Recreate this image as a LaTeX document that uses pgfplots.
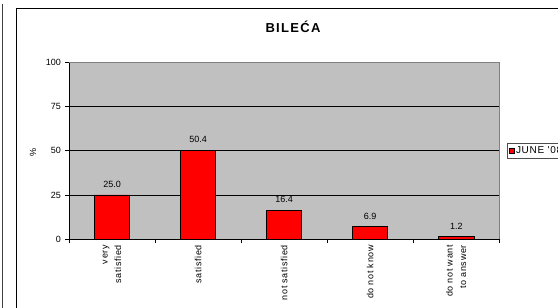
\documentclass[border=0pt]{standalone}
\usepackage{pgfplots}
\pgfplotsset{compat=1.18}
\usepackage{fontspec}
\setmainfont{Liberation Sans}
\newfontfamily\lblfont[LetterSpace=7]{Liberation Sans}
\newfontfamily\titlefont[LetterSpace=10]{Liberation Sans}
\definecolor{plotbg}{HTML}{C0C0C0}
\definecolor{barred}{HTML}{FF0000}
\begin{document}
\begin{tikzpicture}[x=1bp,y=1bp]
\useasboundingbox (0,0) rectangle (558,307);
\draw[black!75, line width=1.2bp] (2.5,-5) -- (2.5,303);
\draw[black, line width=1bp] (16,-10) -- (16,298.7) -- (620,298.7);
\node[font=\titlefont\bfseries\fontsize{13bp}{15bp}\selectfont, anchor=base, inner sep=0pt] at (293,274.3) {BILEĆA};
\begin{axis}[
  at={(69bp,68bp)}, anchor=south west,
  scale only axis, width=430.3bp, height=176.3bp,
  xmin=-0.5, xmax=4.5, ymin=0, ymax=100,
  axis x line*=bottom, axis y line*=left,
  axis line style={black, line width=0.8bp},
  axis background/.style={fill=plotbg, draw=black!50, line width=0.8bp},
  tick align=outside, major tick length=4bp,
  tick style={black, line width=0.8bp},
  /pgf/number format/assume math mode=true,
  xtick={-0.5,0.5,...,4.5}, xticklabels={},
  extra x ticks={0,1,2,3,4},
  extra x tick labels={{very\\satisfied},{satisfied},{not satisfied},{do not know},{do not want\\to answer}},
  extra x tick style={major tick length=0pt},
  xticklabel style={rotate=90, anchor=east, align=right, inner sep=0pt, xshift=-6bp,
    font=\lblfont\fontsize{9bp}{13.5bp}\selectfont},
  ytick={0,25,50,75,100},
  yticklabel style={font=\fontsize{9bp}{11bp}\selectfont, inner sep=0pt, xshift=-4bp},
  extra y ticks={25,50,75}, extra y tick labels={},
  extra y tick style={grid=major, major grid style={black, line width=0.8bp}, major tick length=0pt},
  ylabel={\%},
  ylabel style={at={(axis description cs:-0.0837,0.4895)}, anchor=center, font=\fontsize{9bp}{11bp}\selectfont},
  legend style={at={(rel axis cs:1.0186,0.5428)}, anchor=north west, draw=black!70, fill=white,
    font=\lblfont\fontsize{10bp}{12bp}\selectfont, inner xsep=1bp, inner ysep=1bp},
]
\addplot[ybar, bar width=35.3bp, fill=barred, draw=black, line width=0.8bp,
  legend image code/.code={\draw[fill=barred,draw=black,line width=0.5bp] (0bp,-2.5bp) rectangle (5bp,2.5bp);},
  nodes near coords={\pgfmathprintnumber[fixed,fixed zerofill,precision=1,assume math mode=true]{\pgfplotspointmeta}},
  nodes near coords style={font=\fontsize{9bp}{10bp}\selectfont, anchor=south, inner sep=0pt, yshift=7bp, black}]
  coordinates {(0,25.0) (1,50.4) (2,16.4) (3,6.9) (4,1.2)};
\addlegendentry{JUNE '08}
\end{axis}
\end{tikzpicture}
\end{document}
